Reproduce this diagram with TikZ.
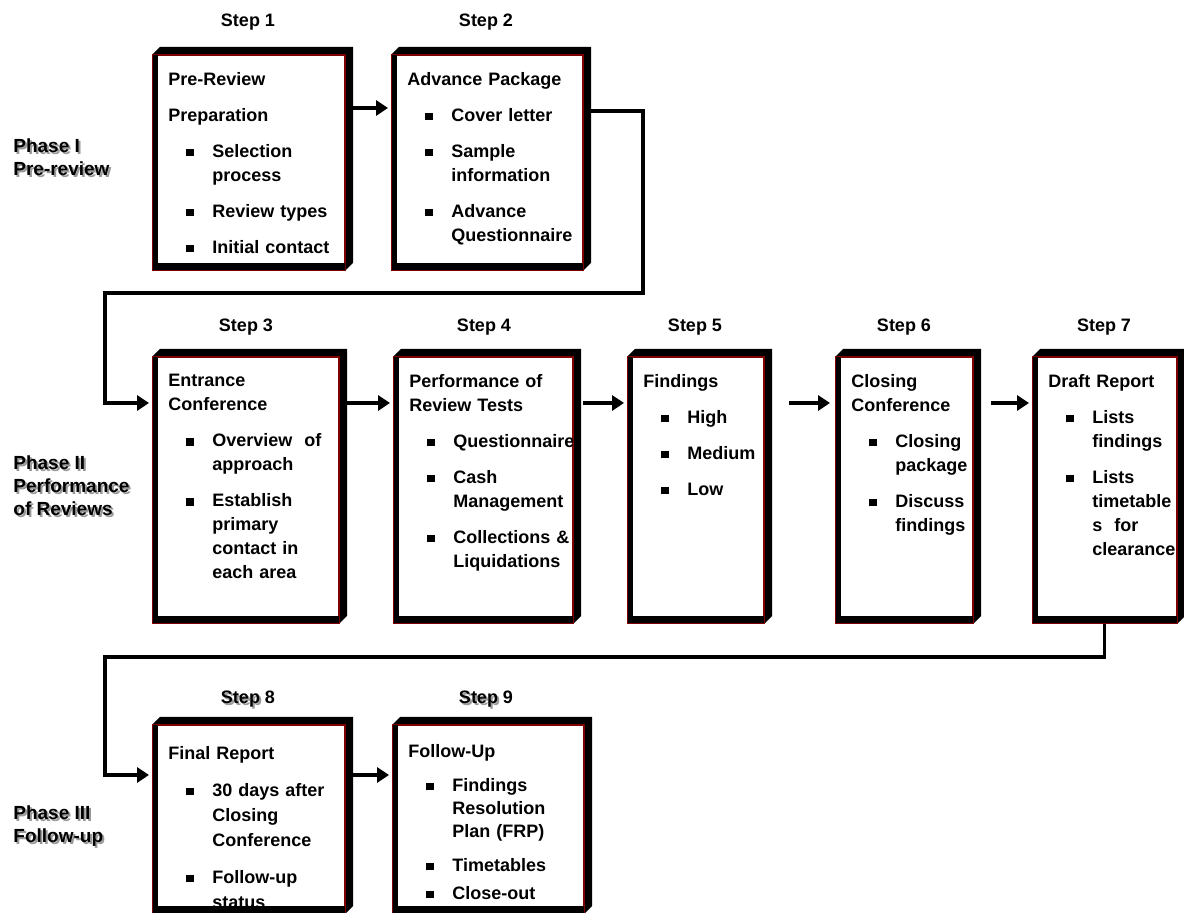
\documentclass[tikz,border=0pt]{standalone}
\usepackage{fontspec}
\setmainfont{Liberation Sans}
\usepackage{tikz}
\usetikzlibrary{arrows.meta}
\definecolor{boxred}{HTML}{7F0000}
\definecolor{shadowgray}{HTML}{9A9A9A}
\newcommand{\bitem}{\par\leftskip=22pt\noindent\llap{\makebox[13pt][l]{\rule[0.5pt]{3.6pt}{3.8pt}}}}

\begin{document}
\begin{tikzpicture}
  [x=0.5pt,y=-0.5pt,
   stepbox/.style={draw=boxred,line width=0.5pt,fill=white,inner sep=0pt,anchor=north west},
   boxtext/.style={anchor=north west,inner sep=0pt,text width=100pt,align=left,
     font=\bfseries\fontsize{9}{12}\selectfont,execute at begin node={\setlength{\parskip}{6pt}}},
   steplbl/.style={anchor=base,inner sep=0pt,font=\bfseries\fontsize{9}{12}\selectfont},
   phase/.style={anchor=north west,inner sep=0pt,align=left,font=\bfseries\fontsize{9.5}{11.5}\selectfont},
   conn/.style={line width=1.8pt,-{Triangle[length=6pt,width=7.5pt]}}]

\useasboundingbox (0,0) rectangle (1184,913);

%phase labels
\node[phase,shadowgray] (p1s) at (15,140) {Phase I\\Pre-review};
\node[phase] (p1) at (13,138) {Phase I\\Pre-review};
\node[phase,shadowgray] (p2s) at (15,457) {Phase II\\Performance\\of Reviews};
\node[phase] (p2) at (13,455) {Phase II\\Performance\\of Reviews};
\node[phase,shadowgray] (p3s) at (15,807) {Phase III\\Follow-up};
\node[phase] (p3) at (13,805) {Phase III\\Follow-up};

%step labels
\node[steplbl] (l1) at (248,27) {Step 1};
\node[steplbl] (l2) at (486,27) {Step 2};
\node[steplbl] (l3) at (246,332) {Step 3};
\node[steplbl] (l4) at (484,332) {Step 4};
\node[steplbl] (l5) at (695,332) {Step 5};
\node[steplbl] (l6) at (904,332) {Step 6};
\node[steplbl] (l7) at (1104,332) {Step 7};
\node[steplbl,shadowgray] (l8s) at (250,706) {Step\phantom{ 8}};
\node[steplbl] (l8) at (248,704) {Step 8};
\node[steplbl,shadowgray] (l9s) at (488,706) {Step\phantom{ 9}};
\node[steplbl] (l9) at (486,704) {Step 9};

%the boxes (front faces)
\node[stepbox,minimum width=96pt,minimum height=107.5pt] (s1) at (152,55) {};
\node[stepbox,minimum width=95.5pt,minimum height=107.5pt] (s2) at (391,55) {};
\node[stepbox,minimum width=93pt,minimum height=133pt] (s3) at (152,357) {};
\node[stepbox,minimum width=89.5pt,minimum height=133pt] (s4) at (393,357) {};
\node[stepbox,minimum width=68pt,minimum height=133pt] (s5) at (627,357) {};
\node[stepbox,minimum width=68.5pt,minimum height=133pt] (s6) at (835,357) {};
\node[stepbox,minimum width=72pt,minimum height=133pt] (s7) at (1032,357) {};
\node[stepbox,minimum width=96pt,minimum height=94pt] (s8) at (152,725) {};
\node[stepbox,minimum width=95.5pt,minimum height=94pt] (s9) at (392,725) {};

%box texts
\node[boxtext] (t1) at ([shift={(16,17)}]s1.north west)
  {Pre-Review\par Preparation\bitem Selection\\process\bitem Review types\bitem Initial contact\par};
\node[boxtext] (t2) at ([shift={(16,17)}]s2.north west)
  {Advance Package\bitem Cover letter\bitem Sample\\information\bitem Advance\\Questionnaire\par};
\node[boxtext] (t3) at ([shift={(16,17)}]s3.north west)
  {Entrance\\Conference\bitem Overview~ of\\approach\bitem Establish\\primary\\contact in\\each area\par};
\node[boxtext] (t4) at ([shift={(16,17)}]s4.north west)
  {Performance of\\Review Tests\bitem Questionnaire\bitem Cash\\Management\bitem Collections \&\\Liquidations\par};
\node[boxtext] (t5) at ([shift={(16,17)}]s5.north west)
  {Findings\bitem High\bitem Medium\bitem Low\par};
\node[boxtext] (t6) at ([shift={(16,17)}]s6.north west)
  {Closing\\Conference\bitem Closing\\package\bitem Discuss\\findings\par};
\node[boxtext] (t7) at ([shift={(16,17)}]s7.north west)
  {Draft Report\bitem Lists\\findings\bitem Lists\\timetable\\s~~for\\clearance\par};
\node[boxtext,font=\bfseries\fontsize{9}{12.5}\selectfont] (t8) at ([shift={(16,21)}]s8.north west)
  {Final Report\bitem 30 days after\\Closing\\Conference\bitem Follow-up\\status\par};
\node[boxtext,font=\bfseries\fontsize{9}{11.5}\selectfont,
      execute at begin node={\setlength{\parskip}{5.5pt}}] (t9) at ([shift={(16,19)}]s9.north west)
  {Follow-Up\bitem Findings\\Resolution\\Plan (FRP)\bitem Timetables\par\vspace{-3pt}\bitem Close-out\par};

%3d frames round the boxes
\foreach \n in {s1,s2,s3,s4,s5,s6,s7,s8,s9}{
  \fill (\n.north west) -- ++(8,-8) -- ([shift={(8,-8)}]\n.north east)
     -- ([shift={(8,-8)}]\n.south east) -- (\n.south east) -- (\n.north east) -- cycle;
  \fill (\n.north west) rectangle ([xshift=3pt]\n.south west);
  \fill ([yshift=4pt]\n.south west) rectangle (\n.south east);
  \draw[boxred,line width=0.5pt] (\n.north west) rectangle (\n.south east);
}

%connectors
\coordinate (b1) at (643,293);
\coordinate (b2) at (105,293);
\coordinate (b3) at (105,657);
\draw[conn] ([shift={(8,53)}]s1.north east) -- ([shift={(-3,53)}]s2.north west);
\draw[conn] ([shift={(8,56)}]s2.north east) -| (b1) -- (b2) |- ([shift={(-3,46)}]s3.north west);
\draw[conn] ([shift={(8,46)}]s3.north east) -- ([shift={(-3,46)}]s4.north west);
\draw[conn] ([shift={(10,46)}]s4.north east) -- ([shift={(-3,46)}]s5.north west);
\draw[conn] ([shift={(25,46)}]s5.north east) -- ([shift={(-5,46)}]s6.north west);
\draw[conn] ([shift={(18,46)}]s6.north east) -- ([shift={(-3,46)}]s7.north west);
\draw[conn] (s7.south) |- (b3) |- ([shift={(-3,50)}]s8.north west);
\draw[conn] ([shift={(8,50)}]s8.north east) -- ([shift={(-3,50)}]s9.north west);

\end{tikzpicture}
\end{document}
